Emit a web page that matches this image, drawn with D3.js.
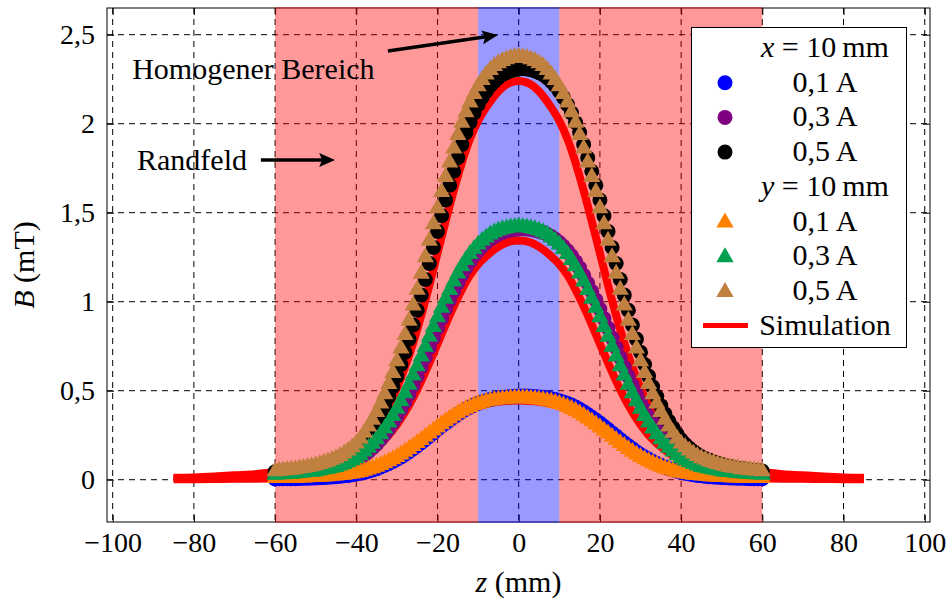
<!DOCTYPE html>
<html>
<head>
<meta charset="utf-8">
<script src="https://cdn.jsdelivr.net/npm/d3@7/dist/d3.min.js"></script>
<style>
  body { margin: 0; background: #fff; }
  svg { display: block; font-family: "Liberation Serif", "DejaVu Serif", serif; }
</style>
</head>
<body>
<svg id="chart" width="948" height="605"></svg>
<script>
// measurement positions along z (mm)
const zMeas = d3.range(-60, 61)

// x = 10 mm (circles)
const bx01 = [0.004,0.005,0.005,0.005,0.006,0.006,0.007,0.008,0.008,0.009,
  0.010,0.011,0.013,0.014,0.015,0.017,0.019,0.022,0.024,0.028,
  0.032,0.036,0.041,0.048,0.055,0.062,0.071,0.081,0.091,0.102,
  0.115,0.128,0.142,0.157,0.174,0.191,0.208,0.226,0.245,0.263,
  0.282,0.300,0.318,0.335,0.351,0.367,0.382,0.396,0.408,0.419,
  0.428,0.437,0.444,0.450,0.455,0.460,0.463,0.465,0.467,0.469,
  0.470,0.470,
  0.470,0.469,0.467,0.465,0.463,0.460,0.455,0.450,0.444,0.437,
  0.428,0.419,0.408,0.396,0.382,0.367,0.351,0.335,0.318,0.300,
  0.282,0.263,0.245,0.226,0.208,0.191,0.174,0.157,0.142,0.128,
  0.115,0.102,0.091,0.081,0.071,0.062,0.055,0.048,0.041,0.036,
  0.032,0.028,0.024,0.022,0.019,0.017,0.015,0.014,0.013,0.011,
  0.010,0.009,0.008,0.008,0.007,0.006,0.006,0.005,0.005]
const bx03 = [0.027,0.028,0.030,0.031,0.032,0.034,0.035,0.038,0.039,0.042,
  0.045,0.048,0.052,0.056,0.061,0.066,0.072,0.079,0.087,0.097,
  0.109,0.121,0.137,0.157,0.178,0.200,0.226,0.254,0.285,0.319,
  0.355,0.395,0.437,0.482,0.530,0.581,0.633,0.687,0.742,0.797,
  0.852,0.905,0.959,1.010,1.058,1.104,1.149,1.190,1.225,1.258,
  1.286,1.311,1.332,1.351,1.366,1.379,1.389,1.396,1.402,1.406,
  1.409,1.410,
  1.409,1.406,1.402,1.396,1.389,1.379,1.366,1.351,1.332,1.311,
  1.286,1.258,1.225,1.190,1.149,1.104,1.058,1.010,0.959,0.905,
  0.852,0.797,0.742,0.687,0.633,0.581,0.530,0.482,0.437,0.395,
  0.355,0.319,0.285,0.254,0.226,0.200,0.178,0.157,0.137,0.121,
  0.109,0.097,0.087,0.079,0.072,0.066,0.061,0.056,0.052,0.048,
  0.045,0.042,0.039,0.038,0.035,0.034,0.032,0.031,0.030]
const bx05 = [0.044,0.046,0.049,0.051,0.053,0.055,0.058,0.062,0.065,0.069,
  0.074,0.079,0.085,0.092,0.099,0.109,0.118,0.129,0.143,0.159,
  0.178,0.199,0.224,0.256,0.291,0.328,0.370,0.416,0.467,0.522,
  0.582,0.647,0.716,0.790,0.869,0.952,1.037,1.125,1.215,1.305,
  1.395,1.483,1.571,1.654,1.733,1.809,1.883,1.950,2.007,2.061,
  2.107,2.148,2.183,2.213,2.238,2.259,2.275,2.287,2.296,2.303,
  2.308,2.310,
  2.308,2.303,2.296,2.287,2.275,2.259,2.238,2.213,2.183,2.148,
  2.107,2.061,2.007,1.950,1.883,1.809,1.733,1.654,1.571,1.483,
  1.395,1.305,1.215,1.125,1.037,0.952,0.869,0.790,0.716,0.647,
  0.582,0.522,0.467,0.416,0.370,0.328,0.291,0.256,0.224,0.199,
  0.178,0.159,0.143,0.129,0.118,0.109,0.099,0.092,0.085,0.079,
  0.074,0.069,0.065,0.062,0.058,0.055,0.053,0.051,0.049]

// y = 10 mm (triangles)
const by01 = [0.009,0.010,0.010,0.011,0.011,0.011,0.012,0.013,0.014,0.015,
  0.016,0.017,0.018,0.020,0.022,0.023,0.026,0.028,0.032,0.035,
  0.039,0.044,0.051,0.058,0.065,0.073,0.082,0.093,0.104,0.115,
  0.128,0.142,0.157,0.172,0.189,0.206,0.223,0.241,0.259,0.277,
  0.294,0.311,0.328,0.344,0.359,0.373,0.387,0.398,0.409,0.418,
  0.426,0.433,0.439,0.444,0.448,0.451,0.453,0.455,0.457,0.458,
  0.458,
  0.458,0.457,0.455,0.453,0.451,0.448,0.444,0.439,0.433,0.426,
  0.418,0.409,0.398,0.387,0.373,0.359,0.344,0.328,0.311,0.294,
  0.277,0.259,0.241,0.223,0.206,0.189,0.172,0.157,0.142,0.128,
  0.115,0.104,0.093,0.082,0.073,0.065,0.058,0.051,0.044,0.039,
  0.035,0.032,0.028,0.026,0.023,0.022,0.020,0.018,0.017,0.016,
  0.015,0.014,0.013,0.012,0.011,0.011,0.011,0.010,0.010,0.009]
const by03 = [0.028,0.030,0.031,0.033,0.034,0.036,0.038,0.040,0.043,0.045,
  0.048,0.053,0.057,0.061,0.067,0.072,0.080,0.088,0.098,0.109,
  0.122,0.138,0.158,0.179,0.202,0.227,0.256,0.287,0.321,0.358,
  0.398,0.441,0.486,0.534,0.585,0.638,0.692,0.747,0.803,0.858,
  0.912,0.966,1.017,1.066,1.113,1.158,1.199,1.235,1.268,1.296,
  1.322,1.343,1.361,1.377,1.390,1.400,1.407,1.412,1.417,1.420,
  1.421,
  1.420,1.417,1.412,1.407,1.400,1.390,1.377,1.361,1.343,1.322,
  1.296,1.268,1.235,1.199,1.158,1.113,1.066,1.017,0.966,0.912,
  0.858,0.803,0.747,0.692,0.638,0.585,0.534,0.486,0.441,0.398,
  0.358,0.321,0.287,0.256,0.227,0.202,0.179,0.158,0.138,0.122,
  0.109,0.098,0.088,0.080,0.072,0.067,0.061,0.057,0.053,0.048,
  0.045,0.043,0.040,0.038,0.036,0.034,0.033,0.031,0.030,0.028]
const by05 = [0.048,0.050,0.052,0.055,0.057,0.059,0.064,0.067,0.071,0.076,
  0.081,0.088,0.095,0.102,0.112,0.121,0.133,0.147,0.164,0.183,
  0.204,0.230,0.264,0.299,0.337,0.380,0.428,0.480,0.537,0.599,
  0.665,0.737,0.813,0.893,0.979,1.067,1.157,1.250,1.342,1.435,
  1.525,1.616,1.701,1.782,1.860,1.936,2.005,2.065,2.119,2.167,
  2.210,2.245,2.276,2.302,2.324,2.340,2.352,2.362,2.369,2.374,
  2.376,
  2.374,2.369,2.362,2.352,2.340,2.324,2.302,2.276,2.245,2.210,
  2.167,2.119,2.065,2.005,1.936,1.860,1.782,1.701,1.616,1.525,
  1.435,1.342,1.250,1.157,1.067,0.979,0.893,0.813,0.737,0.665,
  0.599,0.537,0.480,0.428,0.380,0.337,0.299,0.264,0.230,0.204,
  0.183,0.164,0.147,0.133,0.121,0.112,0.102,0.095,0.088,0.081,
  0.076,0.071,0.067,0.064,0.059,0.057,0.055,0.052,0.050,0.048]

// simulation
const zSim = [-85,-80,-75,-70,-65,-60,-55,-50,-45,
  -40,-38,-36,-34,-32,-30,-28,-26,-24,-22,-20,-18,-16,-14,-12,-10,-8,-6,-4,-2,0,
  2,4,6,8,10,12,14,16,18,20,22,24,26,28,30,32,34,36,38,40,
  45,50,55,60,65,70,75,80,85]
const sim01 = [0.002,0.003,0.004,0.005,0.006,0.008,0.010,0.013,0.020,
  0.034,0.045,0.059,0.076,0.097,0.121,0.149,0.180,0.214,0.249,0.284,0.317,0.347,0.375,0.396,0.414,0.426,0.435,0.441,0.444,0.445,
  0.444,0.441,0.435,0.426,0.414,0.396,0.375,0.347,0.317,0.284,0.249,0.214,0.180,0.149,0.121,0.097,0.076,0.059,0.045,0.034,
  0.020,0.013,0.010,0.008,0.006,0.005,0.004,0.003,0.002]
const sim03 = [0.007,0.008,0.011,0.015,0.019,0.026,0.035,0.048,0.071,
  0.112,0.136,0.167,0.204,0.251,0.309,0.379,0.461,0.554,0.656,0.763,0.871,0.974,1.068,1.149,1.210,1.255,1.293,1.322,1.339,1.344,
  1.339,1.322,1.293,1.255,1.210,1.149,1.068,0.974,0.871,0.763,0.656,0.554,0.461,0.379,0.309,0.251,0.204,0.167,0.136,0.112,
  0.071,0.048,0.035,0.026,0.019,0.015,0.011,0.008,0.007]
const sim05 = [0.011,0.013,0.018,0.025,0.031,0.043,0.058,0.081,0.119,
  0.186,0.226,0.278,0.340,0.419,0.515,0.632,0.768,0.923,1.093,1.272,1.452,1.624,1.781,1.915,2.016,2.092,2.155,2.204,2.231,2.240,
  2.231,2.204,2.155,2.092,2.016,1.915,1.781,1.624,1.452,1.272,1.093,0.923,0.768,0.632,0.515,0.419,0.340,0.278,0.226,0.186,
  0.119,0.081,0.058,0.043,0.031,0.025,0.018,0.013,0.011]

const xTicks = [-100, -80, -60, -40, -20, 0, 20, 40, 60, 80, 100]
const yTicks = [0, 0.5, 1, 1.5, 2, 2.5]
const edgeZones = [[-60, -10], [10, 60]]
const homZones = [[-10, 10]]

const col = {
  blue: '#0000ff', purple: '#800080', black: '#000000',
  orange: '#ff8000', green: '#00a050', brown: '#bf8040', red: '#ff0000'
}

const plot = {left: 107, right: 930, top: 8, bottom: 522}
const x = d3.scaleLinear().domain([-101.4, 101.3]).range([plot.left, plot.right])
const y = d3.scaleLinear().domain([-0.2376, 2.65]).range([plot.bottom, plot.top])

const de = d3.formatLocale({decimal: ',', thousands: '.', grouping: [3], currency: ['', ' €'], minus: '\u2212'})
const fmt = de.format('~g')

const svg = d3.select('#chart')
const FS = 28   // tick labels
const FT = 30   // words

// grid
const grid = svg.append('g').attr('stroke', '#000').attr('stroke-width', 1).attr('stroke-dasharray', '6,5')
grid.selectAll('line.v').data(xTicks).join('line').attr('class', 'v')
  .attr('x1', d => x(d)).attr('x2', d => x(d))
  .attr('y1', plot.top).attr('y2', plot.bottom)
grid.selectAll('line.h').data(yTicks).join('line').attr('class', 'h')
  .attr('x1', plot.left).attr('x2', plot.right)
  .attr('y1', d => y(d)).attr('y2', d => y(d))

// axes (ticks pointing inwards, on all four sides)
const styleAxis = g => {
  g.attr('font-family', null).attr('font-size', FS)
  g.select('.domain').remove()
  g.selectAll('.tick line').attr('stroke', '#000')
}
svg.append('g').attr('transform', `translate(0,${plot.bottom})`)
  .call(d3.axisBottom(x).tickValues(xTicks).tickFormat(fmt).tickSizeInner(-7).tickSizeOuter(0))
  .call(styleAxis)
  .selectAll('text').attr('y', 30).attr('dy', null)
svg.append('g').attr('transform', `translate(0,${plot.top})`)
  .call(d3.axisTop(x).tickValues(xTicks).tickFormat('').tickSizeInner(-7).tickSizeOuter(0))
  .call(styleAxis)
svg.append('g').attr('transform', `translate(${plot.left},0)`)
  .call(d3.axisLeft(y).tickValues(yTicks).tickFormat(fmt).tickSizeInner(-7).tickSizeOuter(0))
  .call(styleAxis)
  .selectAll('text').attr('x', -12).attr('dy', '0.33em')
svg.append('g').attr('transform', `translate(${plot.right},0)`)
  .call(d3.axisRight(y).tickValues(yTicks).tickFormat('').tickSizeInner(-7).tickSizeOuter(0))
  .call(styleAxis)

svg.append('rect')
  .attr('x', plot.left).attr('y', plot.top)
  .attr('width', plot.right - plot.left).attr('height', plot.bottom - plot.top)
  .attr('fill', 'none').attr('stroke', '#000').attr('stroke-width', 1)

// shaded zones
const zoneLayer = svg.append('g')
zoneLayer.selectAll('rect.edge').data(edgeZones).join('rect').attr('class', 'edge')
  .attr('x', d => x(d[0])).attr('width', d => x(d[1]) - x(d[0]))
  .attr('y', plot.top - 1).attr('height', plot.bottom - plot.top + 2)
  .attr('fill', col.red).attr('fill-opacity', 0.4)
zoneLayer.selectAll('rect.hom').data(homZones).join('rect').attr('class', 'hom')
  .attr('x', d => x(d[0])).attr('width', d => x(d[1]) - x(d[0]))
  .attr('y', plot.top - 1).attr('height', plot.bottom - plot.top + 2)
  .attr('fill', col.blue).attr('fill-opacity', 0.4)

// simulation lines
const simLine = d3.line().x((d, i) => x(zSim[i])).y(d => y(d)).curve(d3.curveMonotoneX)
svg.append('g').selectAll('path').data([sim01, sim03, sim05]).join('path')
  .attr('d', simLine).attr('fill', 'none').attr('stroke', col.red).attr('stroke-width', 8)

// measured data
const circleSeries = [[bx01, col.blue], [bx03, col.purple], [bx05, col.black]]
const triSeries = [[by01, col.orange], [by03, col.green], [by05, col.brown]]
const triSym = d3.symbol(d3.symbolTriangle, 130)

circleSeries.forEach(([vals, c]) => {
  svg.append('g').selectAll('circle').data(vals).join('circle')
    .attr('cx', (d, i) => x(zMeas[i])).attr('cy', d => y(d))
    .attr('r', 7.5).attr('fill', c)
})
triSeries.forEach(([vals, c]) => {
  svg.append('g').selectAll('path').data(vals).join('path')
    .attr('d', triSym)
    .attr('transform', (d, i) => `translate(${x(zMeas[i])},${y(d)})`)
    .attr('fill', c)
})

// annotations
const defs = svg.append('defs')
defs.append('marker').attr('id', 'head')
  .attr('viewBox', '0 -8 16 16').attr('refX', 9).attr('refY', 0)
  .attr('markerUnits', 'userSpaceOnUse').attr('markerWidth', 16).attr('markerHeight', 16)
  .attr('orient', 'auto')
  .append('path').attr('d', 'M0,-7L16,0L0,7L3,0Z').attr('fill', '#000')

const notes = [
  {text: 'Homogener Bereich', tz: -95.2, tb: 2.251, from: [-32.2, 2.408], to: [-5.1, 2.498]},
  {text: 'Randfeld', tz: -94.0, tb: 1.74, from: [-63.5, 1.796], to: [-45.2, 1.796]}
]
notes.forEach(n => {
  svg.append('text').attr('x', x(n.tz)).attr('y', y(n.tb))
    .attr('font-size', FT).text(n.text)
  const x1 = x(n.from[0]), y1 = y(n.from[1]), x2 = x(n.to[0]), y2 = y(n.to[1])
  const len = Math.hypot(x2 - x1, y2 - y1)
  svg.append('line')
    .attr('x1', x1).attr('y1', y1)
    .attr('x2', x2 - (x2 - x1) / len * 7).attr('y2', y2 - (y2 - y1) / len * 7)
    .attr('stroke', '#000').attr('stroke-width', 3.5)
    .attr('marker-end', 'url(#head)')
})

// axis titles
const xt = svg.append('text').attr('x', (plot.left + plot.right) / 2).attr('y', 592)
  .attr('text-anchor', 'middle').attr('font-size', FT)
xt.append('tspan').attr('font-style', 'italic').text('z')
xt.append('tspan').text(' (mm)')
const yt = svg.append('text').attr('transform', `translate(34,${(plot.top + plot.bottom) / 2}) rotate(-90)`)
  .attr('text-anchor', 'middle').attr('font-size', FT)
yt.append('tspan').attr('font-style', 'italic').text('B')
yt.append('tspan').text(' (mT)')

// legend
const legendRows = [
  {head: 'x'},
  {label: '0,1 A', sym: 'circle', color: col.blue},
  {label: '0,3 A', sym: 'circle', color: col.purple},
  {label: '0,5 A', sym: 'circle', color: col.black},
  {head: 'y'},
  {label: '0,1 A', sym: 'tri', color: col.orange},
  {label: '0,3 A', sym: 'tri', color: col.green},
  {label: '0,5 A', sym: 'tri', color: col.brown},
  {label: 'Simulation', sym: 'line', color: col.red}
]
const lg = svg.append('g')
lg.append('rect').attr('x', 691.5).attr('y', 27.5).attr('width', 215).attr('height', 320)
  .attr('fill', '#fff').attr('stroke', '#000').attr('stroke-width', 1)
legendRows.forEach((r, i) => {
  const cy = 48 + i * 34.7
  const t = lg.append('text').attr('x', 825).attr('y', cy + 9)
    .attr('text-anchor', 'middle').attr('font-size', FT)
  if (r.head) {
    t.append('tspan').attr('font-style', 'italic').text(r.head)
    t.append('tspan').text(' = 10\u2009mm')
    return
  }
  t.text(r.label)
  if (r.sym === 'circle') {
    lg.append('circle').attr('cx', 725).attr('cy', cy).attr('r', 7.5).attr('fill', r.color)
  } else if (r.sym === 'tri') {
    lg.append('path').attr('d', triSym).attr('transform', `translate(725,${cy + 1})`).attr('fill', r.color)
  } else {
    lg.append('line').attr('x1', 703).attr('x2', 748).attr('y1', cy).attr('y2', cy)
      .attr('stroke', r.color).attr('stroke-width', 5)
  }
})
</script>
</body>
</html>
